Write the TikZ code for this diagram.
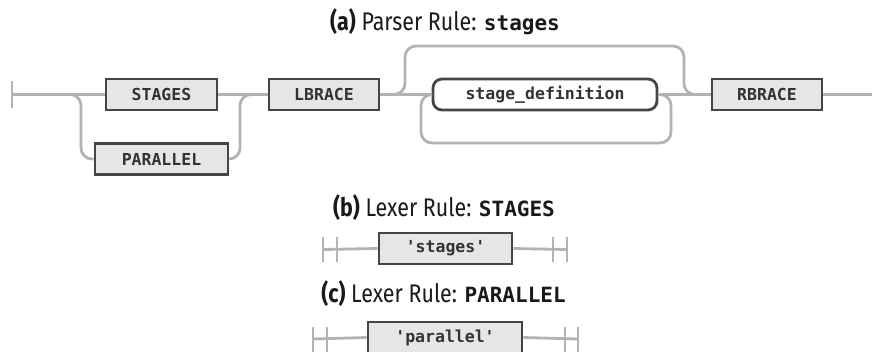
\documentclass[tikz,border=0pt]{standalone}
\usepackage{fontspec}
\setmainfont{Fira Sans}
\setmonofont{DejaVu Sans Mono}
\newfontfamily\titlefont[FakeStretch=0.84]{Fira Sans}
\definecolor{railgray}{HTML}{B3B3B3}
\definecolor{boxedge}{HTML}{454545}
\definecolor{boxfill}{HTML}{E6E6E6}
\definecolor{boxtext}{HTML}{333333}
\begin{document}
\begin{tikzpicture}[x=1pt,y=-1pt,
  rail/.style={draw=railgray,line width=2.8pt,rounded corners=11pt},
  endbar/.style={draw=railgray,line width=2.8pt},
  terminal/.style={draw=boxedge,fill=boxfill,line width=2.8pt,minimum height=31pt,
    inner sep=0pt,text=boxtext,font=\fontsize{16.5}{16.5}\selectfont\ttfamily\bfseries},
  nonterminal/.style={terminal,fill=white,rounded corners=9pt},
  title/.style={anchor=base,text=black!90,inner sep=0pt},
]
\useasboundingbox (0,0) rectangle (872,351);

% ---- (a) parser rule: stages
\node[title] (ta) at (445,30) {\fontsize{25.5}{28}\selectfont\titlefont\textbf{(a)} Parser Rule: {\fontsize{21}{28}\selectfont\ttfamily\bfseries stages}};

\node[terminal,minimum width=111pt] (stg) at (161.5,94.5) {STAGES};
\node[terminal,minimum width=133pt] (par) at (161.5,159) {PARALLEL};
\node[terminal,minimum width=110pt] (lb) at (324,94.5) {LBRACE};
\node[nonterminal,minimum width=224pt] (sd) at (545,94.5) {stage\_definition};
\node[terminal,minimum width=110pt] (rb) at (767,94.5) {RBRACE};

\coordinate (a0) at (12,94.5);
\coordinate (a1) at (872,94.5);
\draw[endbar] (12,81) -- (12,108);

\draw[rail] (a0) -- (stg.west);
\draw[rail] (56,94.5) -- (81,94.5) -- (81,159) -- (par.west);
\draw[rail] (par.east) -- (240,159) -- (240,94.5) -- (256,94.5);
\draw[rail] (stg.east) -- (lb.west);
\draw[rail] (lb.east) -- (sd.west);
\draw[rail] (390,94.5) -- (405,94.5) -- (405,46) -- (684,46) -- (684,94.5) -- (700,94.5);
\draw[rail] (sd.east) -- (671,94.5) -- (671,143) -- (421,143) -- (421,94.5) -- (sd.west);
\draw[rail] (sd.east) -- (rb.west);
\draw[rail] (rb.east) -- (a1);

% ---- (b) lexer rule: STAGES
\node[title] (tb) at (444,216) {\fontsize{25.5}{28}\selectfont\titlefont\textbf{(b)} Lexer Rule: {\fontsize{21}{28}\selectfont\ttfamily\bfseries STAGES}};
\node[terminal,minimum width=133pt] (sq) at (445.5,248.5) {'stages'};
\draw[endbar] (323,237) -- (323,262) (337,237) -- (337,262);
\draw[endbar] (553,237) -- (553,262) (567,237) -- (567,262);
\coordinate (b0) at (323,249.5);
\coordinate (b1) at (567,249.5);
\draw[rail] (b0) -- (sq.west);
\draw[rail] (sq.east) -- (b1);

% ---- (c) lexer rule: PARALLEL
\node[title] (tc) at (443.5,302) {\fontsize{25.5}{28}\selectfont\titlefont\textbf{(c)} Lexer Rule: {\fontsize{21}{28}\selectfont\ttfamily\bfseries PARALLEL}};
\node[terminal,minimum width=154pt] (pq) at (445,337.5) {'parallel'};
\draw[endbar] (313,327) -- (313,352) (327,327) -- (327,352);
\draw[endbar] (565,327) -- (565,352) (578,327) -- (578,352);
\coordinate (c0) at (313,339);
\coordinate (c1) at (578,339);
\draw[rail] (c0) -- (pq.west);
\draw[rail] (pq.east) -- (c1);
\end{tikzpicture}
\end{document}
